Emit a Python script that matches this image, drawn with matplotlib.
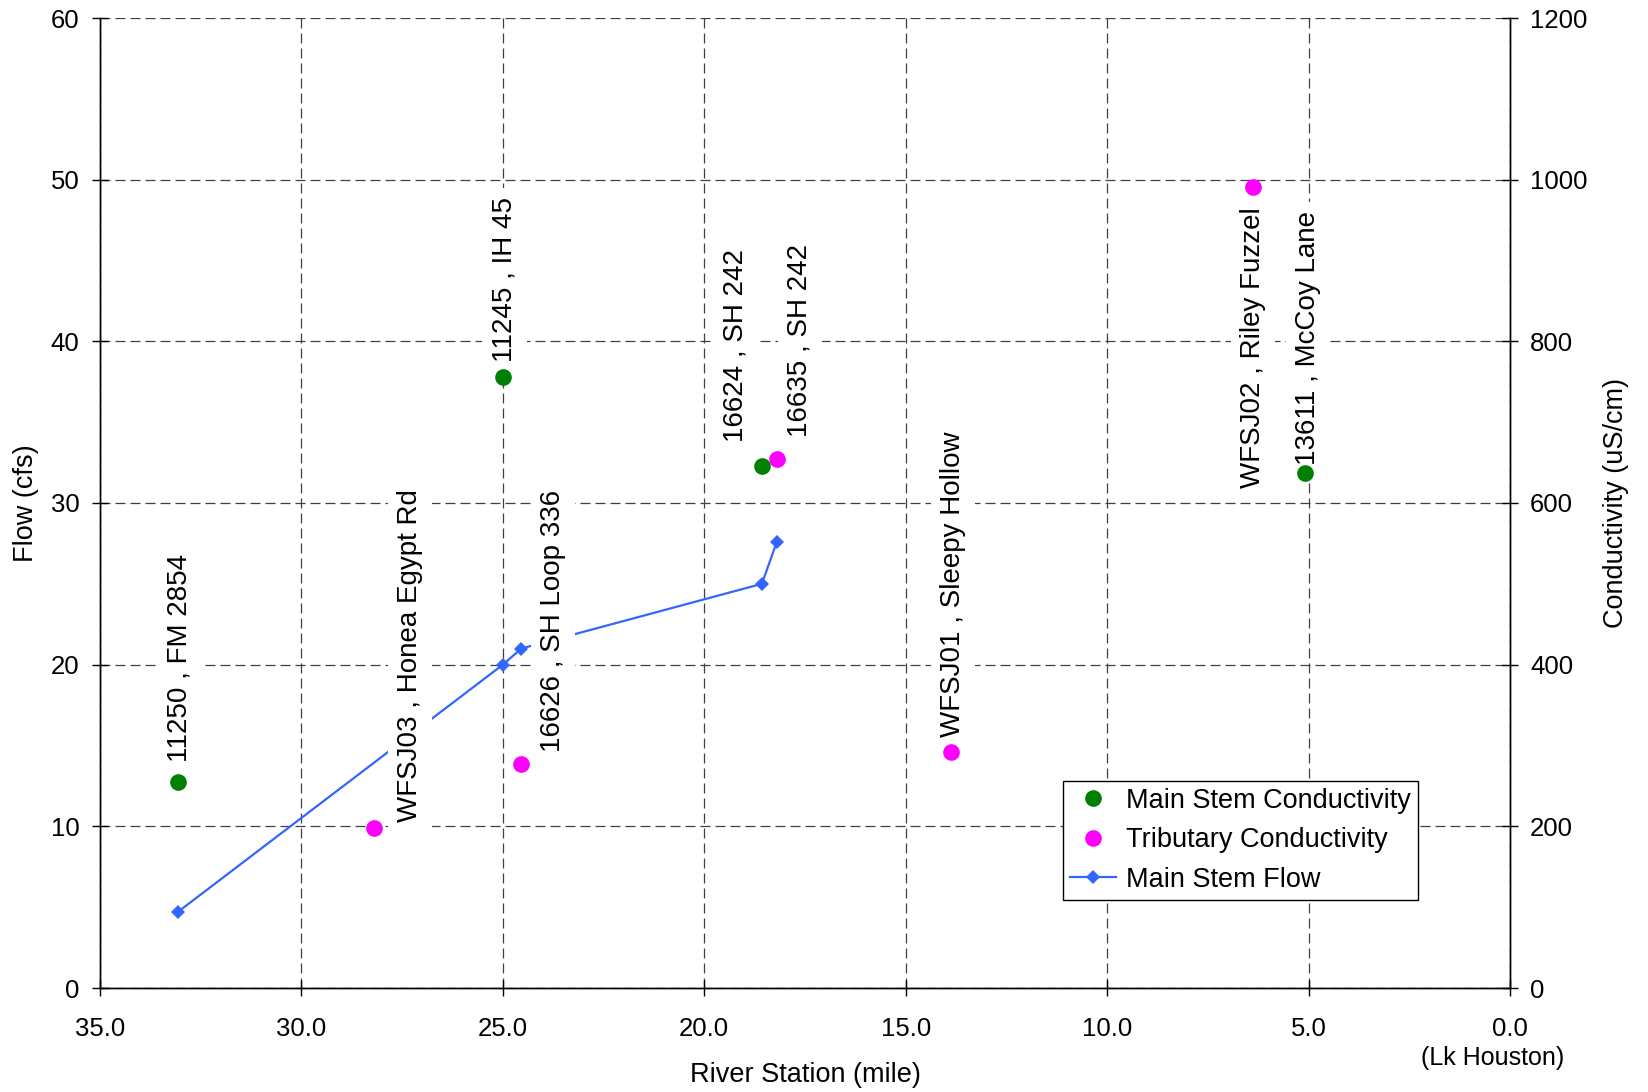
import matplotlib
matplotlib.use('Agg')
import matplotlib.pyplot as plt
from matplotlib.lines import Line2D

plt.rcParams['font.family'] = ['Liberation Sans', 'DejaVu Sans']

# ---------------- data ----------------
flow_station = [33.07, 25.0, 24.54, 18.57, 18.2]
flow_cfs = [4.7, 20.0, 21.0, 25.0, 27.6]

main_station = [33.06, 25.0, 18.57, 5.09]
main_cond = [255, 756, 646, 637]
main_labels = ['11250 , FM 2854', '11245 , IH 45', '16624 , SH 242', '13611 , McCoy Lane']

trib_station = [28.2, 24.55, 18.2, 13.88, 6.38]
trib_cond = [198, 277, 655, 292, 991]
trib_labels = ['WFSJ03 , Honea Egypt Rd', '16626 , SH Loop 336', '16635 , SH 242',
               'WFSJ01 , Sleepy Hollow', 'WFSJ02 , Riley Fuzzel']

x_ticks = [35, 30, 25, 20, 15, 10, 5, 0]
flow_ticks = [0, 10, 20, 30, 40, 50, 60]
cond_ticks = [0, 200, 400, 600, 800, 1000, 1200]

legend_names = ['Main Stem Conductivity', 'Tributary Conductivity', 'Main Stem Flow']

# ---------------- layout / style ----------------
DPI = 100
W, H = 1648, 1092
px = 72.0 / DPI  # pixel -> points

main_offsets = [(1, 20, 'bottom'), (1.5, 15, 'bottom'), (-26, 24, 'bottom'), (3, 8, 'bottom')]
trib_offsets = [(36, 6, 'bottom'), (32, 12, 'bottom'), (23, 22, 'bottom'), (2, 15, 'bottom'), (0, -20, 'top')]

GREEN = '#008000'
MAGENTA = '#FF00FF'
BLUE = '#3366FF'
GRID = '#404040'

TICK_FS = 18.5
AXLAB_FS = 19.5
DATA_FS = 20
LEG_FS = 19.5

fig = plt.figure(figsize=(W / DPI, H / DPI), dpi=DPI)
L, R, T, B = 100, 1510, 18, 988
ax = fig.add_axes([L / W, 1 - B / H, (R - L) / W, (B - T) / H])
ax2 = ax.twinx()

ax.set_xlim(35, 0)
ax.set_ylim(0, 60)
ax2.set_ylim(0, 1200)

ax.set_xticks(x_ticks)
ax.set_xticklabels([f'{t:.1f}' for t in x_ticks])
ax.set_yticks(flow_ticks)
ax.set_yticklabels([str(t) for t in flow_ticks])
ax2.set_yticks(cond_ticks)
ax2.set_yticklabels([str(t) for t in cond_ticks])

ax.grid(True, linestyle=(0, (8, 4)), color=GRID, linewidth=0.9)
ax.set_axisbelow(True)

for a in (ax, ax2):
    a.spines['top'].set_visible(False)
    for s in a.spines.values():
        s.set_linewidth(1.0)
        s.set_color('black')

ax.tick_params(axis='x', direction='inout', length=11.5, width=1, pad=15.0, labelsize=TICK_FS)
ax.tick_params(axis='y', direction='inout', length=11.5, width=1, pad=9.0, labelsize=TICK_FS)
ax2.tick_params(axis='y', direction='inout', length=11.5, width=1, pad=8.6, labelsize=TICK_FS)

# flow line
ax.plot(flow_station, flow_cfs, color=BLUE, linewidth=1.6, marker='D', markersize=6.8,
        markeredgewidth=0, zorder=3)

# conductivity points
ax2.plot(main_station, main_cond, linestyle='none', marker='o', markersize=12,
         color=GREEN, markeredgewidth=0, zorder=6)
ax2.plot(trib_station, trib_cond, linestyle='none', marker='o', markersize=12,
         color=MAGENTA, markeredgewidth=0, zorder=6)

box = dict(boxstyle='square,pad=0.33', facecolor='white', edgecolor='none')
for xs, ys, labs, offs in ((main_station, main_cond, main_labels, main_offsets),
                           (trib_station, trib_cond, trib_labels, trib_offsets)):
    for x, y, lab, (dx, dy, va) in zip(xs, ys, labs, offs):
        ax2.annotate(lab, xy=(x, y), xytext=(dx * px, dy * px), textcoords='offset points',
                     rotation=90, ha='center', va=va, fontsize=DATA_FS, bbox=box, zorder=4)

# axis labels
ax.set_xlabel('River Station (mile)', fontsize=AXLAB_FS)
ax.set_ylabel('Flow (cfs)', fontsize=AXLAB_FS)
ax2.set_ylabel('Conductivity (uS/cm)', fontsize=AXLAB_FS)
ax.xaxis.set_label_coords(0.5, (B - 1062) / (B - T))
ax.yaxis.set_label_coords((39 - L) / (R - L), 0.5)
ax2.yaxis.set_label_coords((1603 - L) / (R - L), 0.5)

fig.text(1493 / W, 1 - 1065 / H, '(Lk Houston)', ha='center', va='baseline', fontsize=18)

# legend
handles = [
    Line2D([], [], linestyle='none', marker='o', markersize=12, color=GREEN, markeredgewidth=0),
    Line2D([], [], linestyle='none', marker='o', markersize=12, color=MAGENTA, markeredgewidth=0),
    Line2D([], [], color=BLUE, linewidth=1.6, marker='D', markersize=6.8, markeredgewidth=0),
]
leg = ax2.legend(handles, legend_names, loc='lower left',
                 bbox_to_anchor=((1063 - L) / (R - L), (B - 900) / (B - T)),
                 bbox_transform=ax2.transAxes, borderaxespad=0, fancybox=False,
                 edgecolor='black', framealpha=1, fontsize=LEG_FS, handlelength=1.7,
                 handletextpad=0.38, borderpad=0.26, labelspacing=0.5)
leg.get_frame().set_linewidth(1.0)
leg.set_zorder(10)

fig.savefig('out.png', dpi=DPI)
